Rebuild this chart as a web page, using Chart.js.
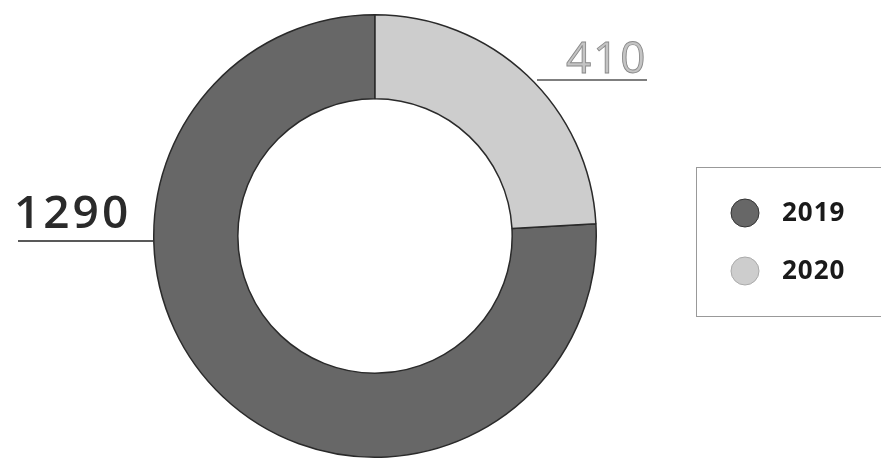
<!DOCTYPE html>
<html>
<head>
<meta charset="utf-8">
<script src="https://cdn.jsdelivr.net/npm/chart.js@4"></script>
<style>
  body { margin: 0; background: #fff; }
  #wrap { width: 881px; height: 459px; }
</style>
</head>
<body>
<div id="wrap"><canvas id="donutChart" width="881" height="459"></canvas></div>
<script>
const years = ['2019', '2020'];
const amounts = [1290, 410];
const sliceColors = ['#676767', '#cdcdcd'];

// draws value labels with underline leaders and the boxed legend
const annotate = {
    id: 'annotate',
    afterDraw(chart) {
        const ctx = chart.ctx;
        ctx.save();
        ctx.textBaseline = 'alphabetic';
        ctx.textAlign = 'left';

        // 1290 on the left
        ctx.font = '600 46px "Open Sans", sans-serif';
        ctx.letterSpacing = '3px';
        ctx.fillStyle = '#2a2a2a';
        ctx.fillText(String(amounts[0]), 14, 228);
        ctx.strokeStyle = '#222';
        ctx.lineWidth = 1.5;
        ctx.beginPath();
        ctx.moveTo(18, 241);
        ctx.lineTo(153, 241);
        ctx.stroke();

        // 410 top right
        ctx.font = '400 44px "Open Sans", sans-serif';
        ctx.letterSpacing = '2px';
        ctx.fillStyle = '#c4c4c4';
        ctx.strokeStyle = '#8a8a8a';
        ctx.lineWidth = 0.9;
        ctx.fillText(String(amounts[1]), 566, 73);
        ctx.strokeText(String(amounts[1]), 566, 73);
        ctx.strokeStyle = '#555';
        ctx.lineWidth = 1.3;
        ctx.beginPath();
        ctx.moveTo(537, 80);
        ctx.lineTo(647, 80);
        ctx.stroke();

        // legend box
        ctx.letterSpacing = '1px';
        ctx.strokeStyle = '#999';
        ctx.lineWidth = 1;
        ctx.strokeRect(696.5, 167.5, 190, 149);
        ctx.font = 'bold 26px "Open Sans", sans-serif';
        ctx.textBaseline = 'middle';
        const rows = [213, 271];
        years.forEach((y, i) => {
            ctx.beginPath();
            ctx.arc(745, rows[i], 14, 0, Math.PI * 2);
            ctx.fillStyle = sliceColors[i];
            ctx.fill();
            ctx.strokeStyle = i === 0 ? '#333' : '#aaa';
            ctx.lineWidth = 1;
            ctx.stroke();
            ctx.fillStyle = '#1a1a1a';
            ctx.fillText(y, 782, rows[i] + 1);
        });
        ctx.restore();
    }
};

const total = amounts[0] + amounts[1];

new Chart(document.getElementById('donutChart'), {
    type: 'doughnut',
    data: {
        labels: years,
        datasets: [{
            data: amounts,
            backgroundColor: sliceColors,
            borderColor: '#2a2a2a',
            borderWidth: 1.5
        }]
    },
    options: {
        responsive: false,
        animation: false,
        cutout: '62%',
        // 2020 slice sits from 12 o'clock clockwise, so 2019 starts after it
        rotation: 360 * amounts[1] / total,
        layout: { padding: { left: 153, right: 284, top: 14, bottom: 1 } },
        plugins: { legend: { display: false }, tooltip: { enabled: false } }
    },
    plugins: [annotate]
});
</script>
</body>
</html>
